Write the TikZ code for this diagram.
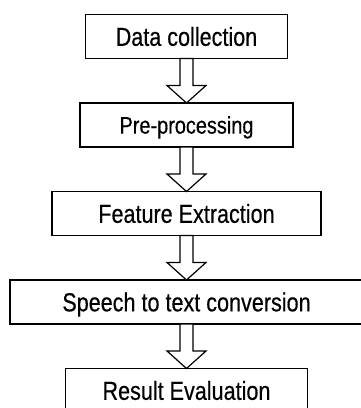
\documentclass[tikz,border=0pt]{standalone}
\usepackage{fontspec}
\setmainfont{Liberation Sans}[FakeStretch=0.83, FakeBold=0.4]
\usetikzlibrary{positioning, calc}

\tikzset{
  stage/.style={draw, line width=1.3pt, minimum height=44pt, inner sep=0pt,
    outer sep=0pt, text height=18.6pt, text depth=0pt,
    font=\fontsize{26}{30}\selectfont},
  fatarrow/.style={draw, line width=1.2pt, fill=white, line join=miter}
}

\begin{document}
\begin{tikzpicture}[x=1pt, y=1pt]
    \useasboundingbox (0,0) rectangle (360,-408);
    % stages of the pipeline, top to bottom
    \node[stage, minimum width=202pt] (collect) at (186.5,-36.5) {Data collection};
    \node[stage, minimum width=213pt, text height=17.2pt,
      font=\fontsize{24}{28}\selectfont, below=44.5pt of collect] (preproc) {Pre-processing};
    \node[stage, minimum width=269pt, below=44.5pt of preproc] (feature) {Feature Extraction};
    \node[stage, minimum width=353pt, below=44.5pt of feature] (stt) {Speech to text conversion};
    \node[stage, minimum width=242pt, below=44.5pt of stt] (result) {Result Evaluation};
    % hollow block arrows between stages
    \foreach \a/\b in {collect/preproc, preproc/feature, feature/stt, stt/result}{
      \draw[fatarrow] ($(\a.south)+(-6.5,0)$) -- ($(\a.south)+(6.5,0)$)
        -- ($(\a.south)+(6.5,-27)$) -- ($(\a.south)+(19.5,-27)$) -- (\b.north)
        -- ($(\a.south)+(-19.5,-27)$) -- ($(\a.south)+(-6.5,-27)$) -- cycle;
    }
  \end{tikzpicture}
\end{document}
